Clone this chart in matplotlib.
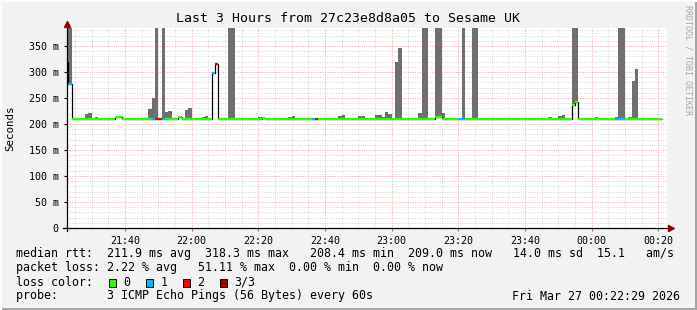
import numpy as np
import matplotlib.pyplot as plt
from matplotlib.patches import Rectangle

# one sample per minute; sample p spans minutes [22+p, 23+p] after 21:00
first_minute = 22
median_ms = [
    320, 276, 210, 210, 210, 210, 210, 210, 210, 210,
    210, 210, 210, 210, 210, 213, 213, 210, 210, 210,
    210, 210, 210, 210, 210, 210, 210, 210, 210, 210,
    210, 210, 210, 210, 213, 210, 210, 210, 210, 210,
    210, 210, 210, 210, 298, 316, 210, 210, 210, 210,
    210, 210, 210, 210, 210, 210, 210, 210, 210, 212,
    210, 210, 210, 210, 210, 210, 210, 210, 210, 210,
    210, 210, 210, 210, 210, 210, 210, 210, 210, 210,
    210, 210, 210, 210, 210, 210, 210, 210, 210, 210,
    210, 210, 210, 210, 210, 210, 210, 210, 210, 210,
    210, 210, 210, 210, 210, 210, 210, 210, 210, 210,
    210, 213, 213, 210, 210, 210, 210, 210, 210, 210,
    210, 210, 210, 210, 210, 210, 210, 210, 210, 210,
    210, 210, 210, 210, 210, 210, 210, 210, 210, 210,
    210, 210, 210, 210, 210, 210, 210, 210, 210, 210,
    210, 210, 236, 242, 210, 210, 210, 210, 210, 210,
    210, 210, 210, 210, 210, 210, 210, 210, 210, 210,
    210, 210, 210, 210, 210, 210, 210, 210, 210,
]
loss = [
    1, 1, 0, 0, 0, 0, 0, 0, 0, 0,
    0, 0, 0, 0, 0, 0, 0, 0, 0, 0,
    0, 0, 0, 0, 0, 0, 1, 2, 2, 1,
    0, 0, 0, 0, 0, 0, 0, 0, 0, 0,
    0, 0, 0, 0, 1, 2, 0, 0, 0, 0,
    0, 0, 0, 0, 0, 0, 0, 0, 0, 0,
    0, 0, 0, 0, 0, 0, 0, 0, 0, 0,
    0, 0, 0, 0, 1, 2, 0, 0, 0, 0,
    0, 0, 0, 0, 0, 0, 0, 0, 0, 0,
    0, 0, 0, 0, 0, 0, 0, 0, 0, 0,
    0, 0, 0, 0, 0, 0, 0, 0, 0, 0,
    0, 0, 0, 0, 0, 0, 0, 0, 1, 1,
    0, 0, 0, 0, 0, 0, 0, 0, 0, 0,
    0, 0, 0, 0, 0, 0, 0, 0, 0, 0,
    0, 0, 0, 0, 0, 0, 0, 0, 0, 0,
    0, 0, 0, 0, 0, 0, 0, 0, 0, 0,
    0, 0, 0, 0, 0, 1, 1, 1, 0, 0,
    0, 0, 0, 0, 0, 0, 0, 0, 0,
]
# top of the smoke per sample (0 = no smoke)
smoke_top = [
    332, 400, 0, 0, 0, 0, 219, 222, 0, 213,
    0, 0, 0, 0, 0, 0, 0, 0, 0, 0,
    0, 0, 0, 0, 0, 228, 250, 400, 0, 400,
    223, 225, 0, 0, 0, 0, 226, 230, 0, 0,
    0, 213, 215, 0, 0, 0, 0, 0, 0, 400,
    400, 0, 0, 0, 0, 0, 0, 0, 213, 0,
    0, 0, 0, 0, 0, 0, 0, 213, 215, 0,
    0, 0, 0, 0, 0, 0, 0, 0, 0, 0,
    0, 0, 215, 217, 0, 0, 0, 0, 215, 215,
    0, 0, 0, 217, 217, 213, 223, 219, 0, 319,
    347, 0, 0, 0, 0, 0, 222, 400, 400, 0,
    0, 400, 400, 221, 0, 0, 0, 0, 0, 400,
    0, 0, 400, 400, 0, 0, 0, 0, 0, 0,
    0, 0, 0, 0, 0, 0, 0, 0, 0, 0,
    0, 0, 0, 0, 0, 213, 0, 0, 215, 218,
    0, 0, 400, 400, 0, 0, 0, 0, 0, 213,
    0, 0, 0, 0, 0, 213, 400, 400, 0, 213,
    283, 306, 0, 0, 0, 0, 0, 0, 0,
]

loss_colors = ['#26ff00', '#00b8ff', '#ff0000', '#a00000']
loss_names = ['0', '1', '2', '3/3']
x_ticks = [40, 60, 80, 100, 120, 140, 160, 180, 200]
x_labels = ['21:40', '22:00', '22:20', '22:40', '23:00', '23:20', '23:40', '00:00', '00:20']
y_ticks = [0, 50, 100, 150, 200, 250, 300, 350]
y_labels = ['0', '50 m', '100 m', '150 m', '200 m', '250 m', '300 m', '350 m']

title = 'Last 3 Hours from 27c23e8d8a05 to Sesame UK'
row_rtt = 'median rtt:  211.9 ms avg  318.3 ms max   208.4 ms min  209.0 ms now   14.0 ms sd  15.1   am/s'
row_loss = 'packet loss: 2.22 % avg   51.11 % max  0.00 % min  0.00 % now'
row_probe = 'probe:       3 ICMP Echo Pings (56 Bytes) every 60s'
stamp = 'Fri Mar 27 00:22:29 2026'

W, H = 697, 310
mono = 'DejaVu Sans Mono'
bg = '#f2f2f2'


def fx(px):
    return px / W


def fy(py):
    return 1 - py / H


fig = plt.figure(figsize=(W / 100, H / 100), dpi=100, facecolor=bg)
ax = fig.add_axes([fx(66.5), fy(228), 600 / W, 200 / H])
ax.set_facecolor('white')
ax.set_xlim(22.483, 202.483)
ax.set_ylim(0, 384.6)

# grid
ax.set_xticks(x_ticks)
ax.set_xticks(np.arange(25, 205, 5), minor=True)
ax.set_yticks(y_ticks)
ax.set_yticks(np.arange(0, 390, 10), minor=True)
ax.grid(which='minor', color='#d2d2d2', ls=(0, (1, 1.5)), lw=0.65)
ax.grid(which='major', color='#f3a6a6', ls=(0, (1, 1.5)), lw=0.7)
ax.set_axisbelow(True)

n = len(median_ms)
edges = first_minute + np.arange(n + 1)
med = np.array(median_ms, dtype=float)
top = np.array(smoke_top, dtype=float)

has = top > 0
ax.bar(edges[:-1][has], (top - med)[has], bottom=med[has], width=1, align='edge',
       color='#6f6f6f', lw=0, zorder=2)
ax.stairs(med, edges, baseline=None, color='black', lw=0.9, zorder=3)
ax.hlines(med, edges[:-1], edges[1:], colors=[loss_colors[l] for l in loss],
          lw=1.6, zorder=4, capstyle='butt')

for s in ['top', 'right', 'left', 'bottom']:
    ax.spines[s].set_visible(False)

# axis lines with arrows
fig.add_artist(plt.Line2D([fx(66.5), fx(66.5)], [fy(231), fy(24)], color='black', lw=0.9))
fig.add_artist(plt.Line2D([fx(63), fx(670)], [fy(228), fy(228)], color='black', lw=0.9))
fig.add_artist(plt.Line2D([fx(66.5)], [fy(23.5)], marker='^', ms=4.5, color='#8b0000', mec='#8b0000'))
fig.add_artist(plt.Line2D([fx(671)], [fy(228)], marker='>', ms=4.5, color='#8b0000', mec='#8b0000'))

ax.set_xticklabels(x_labels, family=mono, fontsize=7.2)
ax.set_yticklabels(y_labels, family=mono, fontsize=7.2)
ax.tick_params(axis='x', which='major', length=2, width=0.8, color='#e06060', pad=3.5)
ax.tick_params(axis='y', which='major', length=2.5, width=0.8, color='black', pad=3)
ax.tick_params(which='minor', length=0)

fig.text(fx(10.5), fy(128), 'Seconds', rotation=90, ha='center', va='center',
         family=mono, fontsize=7.8)
fig.text(fx(348), fy(19), title, ha='center', va='center', family=mono, fontsize=9.5)
fig.text(fx(688), fy(5), 'RRDTOOL / TOBI OETIKER', rotation=270, ha='center', va='top',
         family=mono, fontsize=6, color='#a8a8a8')

fs = 8.35
fig.text(fx(16), fy(254), row_rtt, ha='left', va='center', family=mono, fontsize=fs)
fig.text(fx(16), fy(268), row_loss, ha='left', va='center', family=mono, fontsize=fs)
fig.text(fx(16), fy(282), 'loss color:', ha='left', va='center', family=mono, fontsize=fs)
fig.text(fx(16), fy(296), row_probe, ha='left', va='center', family=mono, fontsize=fs)
fig.text(fx(680), fy(296), stamp, ha='right', va='center', family=mono, fontsize=fs)

sq_x = [108.5, 145.8, 182.8, 219.5]
lab_x = [123.3, 160.7, 197.3, 234.3]
for c, name, sx, lx in zip(loss_colors, loss_names, sq_x, lab_x):
    fig.add_artist(Rectangle((fx(sx), fy(286.5)), 7 / W, 8 / H, transform=fig.transFigure,
                             facecolor=c, edgecolor='black', lw=0.7))
    fig.text(fx(lx), fy(282), name, ha='left', va='center', family=mono, fontsize=fs)

# frame shading
fig.add_artist(Rectangle((fx(694.5), 0), 2.5 / W, 1, transform=fig.transFigure, color='#a4a4a4', lw=0))
fig.add_artist(Rectangle((0, 0), 1, 2.5 / H, transform=fig.transFigure, color='#a4a4a4', lw=0))
fig.add_artist(Rectangle((0, fy(2)), 1, 2 / H, transform=fig.transFigure, color='#fcfcfc', lw=0))
fig.add_artist(Rectangle((0, 0), 2 / W, 1, transform=fig.transFigure, color='#fcfcfc', lw=0))

fig.savefig('out.png', dpi=100, facecolor=bg)
